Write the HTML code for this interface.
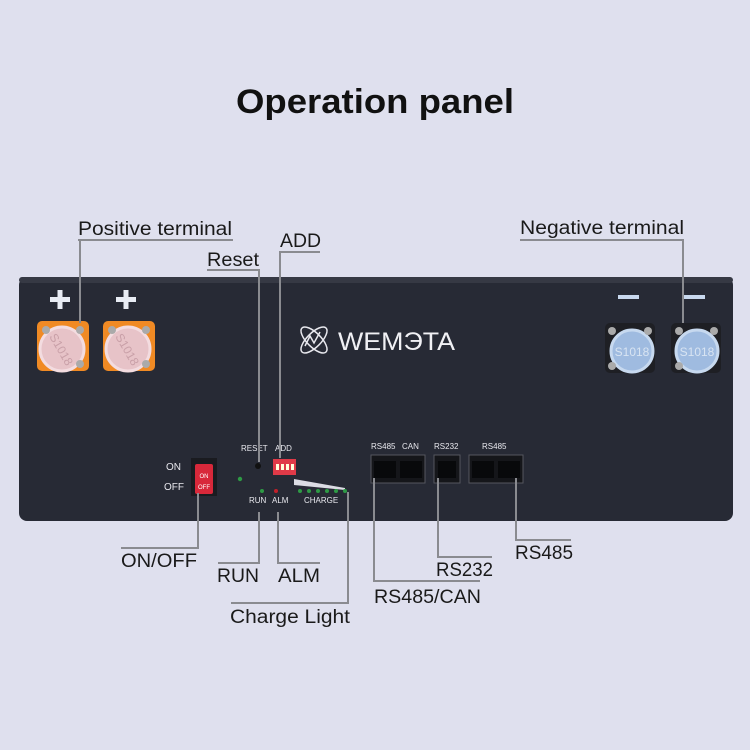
<!DOCTYPE html>
<html><head><meta charset="utf-8"><style>
html,body{margin:0;padding:0;background:#dfe0ee;}
svg{display:block}
text{font-family:"Liberation Sans",sans-serif;}
</style></head><body>
<svg width="750" height="750" viewBox="0 0 750 750">
<rect width="750" height="750" fill="#dfe0ee"/>
<text x="375" y="113" text-anchor="middle" font-size="34" font-weight="bold" fill="#111" textLength="278" lengthAdjust="spacingAndGlyphs">Operation panel</text>
<rect x="19" y="277" width="714" height="244" rx="8" fill="#272a35"/>
<rect x="19" y="277" width="714" height="6" rx="3" fill="#363944"/>
<g fill="#e8ecf4">
<rect x="50" y="297" width="20" height="5"/><rect x="57.5" y="290" width="5" height="19"/>
<rect x="116" y="297" width="20" height="5"/><rect x="123.5" y="290" width="5" height="19"/>
<rect x="618" y="295" width="21" height="4" fill="#c8d8ee"/><rect x="684" y="295" width="21" height="4" fill="#c8d8ee"/>
</g>
<g>
<rect x="37" y="321" width="52" height="50" rx="5" fill="#f08a24"/>
<circle cx="62" cy="349" r="22" fill="#e7c3c8" stroke="#f3dce0" stroke-width="3"/>
<text x="62" y="354" text-anchor="middle" font-size="12" fill="#c9a0a8" transform="rotate(60 62 349)">S1018</text>
<circle cx="46" cy="330" r="4" fill="#aaa"/><circle cx="80" cy="330" r="4" fill="#aaa"/><circle cx="80" cy="364" r="4" fill="#aaa"/>
<rect x="103" y="321" width="52" height="50" rx="5" fill="#f08a24"/>
<circle cx="128" cy="349" r="22" fill="#e7c3c8" stroke="#f3dce0" stroke-width="3"/>
<text x="128" y="354" text-anchor="middle" font-size="12" fill="#c9a0a8" transform="rotate(60 128 349)">S1018</text>
<circle cx="112" cy="330" r="4" fill="#aaa"/><circle cx="146" cy="330" r="4" fill="#aaa"/><circle cx="146" cy="364" r="4" fill="#aaa"/>
</g>
<g>
<rect x="605" y="323" width="50" height="50" rx="5" fill="#1e1f24"/>
<circle cx="632" cy="351" r="21" fill="#9fbbe0" stroke="#c7d9ef" stroke-width="3"/>
<text x="632" y="356" text-anchor="middle" font-size="12" fill="#d8e4f2">S1018</text>
<circle cx="612" cy="331" r="4" fill="#aaa"/><circle cx="648" cy="331" r="4" fill="#aaa"/><circle cx="612" cy="366" r="4" fill="#aaa"/>
<rect x="671" y="323" width="50" height="50" rx="5" fill="#1e1f24"/>
<circle cx="697" cy="351" r="21" fill="#9fbbe0" stroke="#c7d9ef" stroke-width="3"/>
<text x="697" y="356" text-anchor="middle" font-size="12" fill="#d8e4f2">S1018</text>
<circle cx="679" cy="331" r="4" fill="#aaa"/><circle cx="714" cy="331" r="4" fill="#aaa"/><circle cx="679" cy="366" r="4" fill="#aaa"/>
</g>
<g stroke="#e8e8ee" fill="none" stroke-width="1.5">
<ellipse cx="314" cy="340" rx="17" ry="7" transform="rotate(45 314 340)"/>
<ellipse cx="314" cy="340" rx="17" ry="7" transform="rotate(-45 314 340)"/>
<polyline points="305,346 310,336 314,343 320,332"/>
</g>
<text x="338" y="350" font-size="25" fill="#f0f0f4" textLength="117" lengthAdjust="spacingAndGlyphs">WEMЭTA</text>
<g font-size="10" fill="#e8e8ee">
<text x="166" y="470">ON</text><text x="164" y="490">OFF</text>
<text x="241" y="451" font-size="8">RESET</text><text x="275" y="451" font-size="8">ADD</text>
<text x="249" y="503" font-size="8">RUN</text><text x="272" y="503" font-size="8">ALM</text>
<text x="304" y="503" font-size="8">CHARGE</text>
<text x="371" y="449" font-size="8">RS485</text><text x="402" y="449" font-size="8">CAN</text>
<text x="434" y="449" font-size="8">RS232</text><text x="482" y="449" font-size="8">RS485</text>
</g>
<rect x="191" y="458" width="26" height="38" fill="#1a1b20"/>
<rect x="195" y="464" width="18" height="30" rx="2" fill="#d8283a"/>
<text x="204" y="478" font-size="6" fill="#fff" text-anchor="middle">ON</text>
<text x="204" y="489" font-size="6" fill="#fff" text-anchor="middle">OFF</text>
<circle cx="258" cy="466" r="3" fill="#111"/>
<rect x="273" y="459" width="23" height="16" fill="#e03a48"/>
<g fill="#ffd"><rect x="276" y="464" width="3" height="6"/><rect x="281" y="464" width="3" height="6"/><rect x="286" y="464" width="3" height="6"/><rect x="291" y="464" width="3" height="6"/></g>
<polygon points="294,479 294,485 345,490 345,488" fill="#dcdce4"/>
<g fill="#2e9a45"><circle cx="240" cy="479" r="2.2"/><circle cx="262" cy="491" r="2"/><circle cx="300" cy="491" r="2"/><circle cx="309" cy="491" r="2"/><circle cx="318" cy="491" r="2"/><circle cx="327" cy="491" r="2"/><circle cx="336" cy="491" r="2"/><circle cx="345" cy="491" r="2"/></g>
<circle cx="276" cy="491" r="2" fill="#c0202a"/>
<g fill="#15161a" stroke="#55575e" stroke-width="1">
<rect x="371" y="455" width="54" height="28"/><rect x="434" y="455" width="26" height="28"/><rect x="469" y="455" width="54" height="28"/>
</g>
<g fill="#08090b"><rect x="374" y="461" width="22" height="17"/><rect x="400" y="461" width="22" height="17"/><rect x="438" y="461" width="18" height="17"/><rect x="472" y="461" width="22" height="17"/><rect x="498" y="461" width="22" height="17"/></g>
<g stroke="#8a8b90" stroke-width="2" fill="none">
<polyline points="78,240 233,240"/><line x1="80" y1="240" x2="80" y2="323"/>
<polyline points="207,270 259,270 259,462"/>
<polyline points="320,252 280,252 280,458"/>
<polyline points="520,240 683,240 683,323"/>
<polyline points="198,493 198,548 121,548"/>
<polyline points="259,512 259,563 218,563"/>
<polyline points="278,512 278,563 320,563"/>
<polyline points="348,492 348,603 231,603"/>
<polyline points="374,478 374,581 480,581"/>
<polyline points="438,478 438,557 492,557"/>
<polyline points="516,478 516,540 571,540"/>
</g>
<g font-size="19" fill="#1a1a1a" lengthAdjust="spacingAndGlyphs">
<text x="78" y="235" textLength="154" lengthAdjust="spacingAndGlyphs">Positive terminal</text>
<text x="207" y="266" textLength="52" lengthAdjust="spacingAndGlyphs">Reset</text>
<text x="280" y="247" textLength="41" lengthAdjust="spacingAndGlyphs">ADD</text>
<text x="520" y="234" textLength="164" lengthAdjust="spacingAndGlyphs">Negative terminal</text>
<text x="121" y="567" textLength="76" lengthAdjust="spacingAndGlyphs">ON/OFF</text>
<text x="217" y="582" textLength="42" lengthAdjust="spacingAndGlyphs">RUN</text>
<text x="278" y="582" textLength="42" lengthAdjust="spacingAndGlyphs">ALM</text>
<text x="230" y="623" textLength="120" lengthAdjust="spacingAndGlyphs">Charge Light</text>
<text x="374" y="603" textLength="107" lengthAdjust="spacingAndGlyphs">RS485/CAN</text>
<text x="436" y="576" textLength="57" lengthAdjust="spacingAndGlyphs">RS232</text>
<text x="515" y="559" textLength="58" lengthAdjust="spacingAndGlyphs">RS485</text>
</g>
</svg>
</body></html>
